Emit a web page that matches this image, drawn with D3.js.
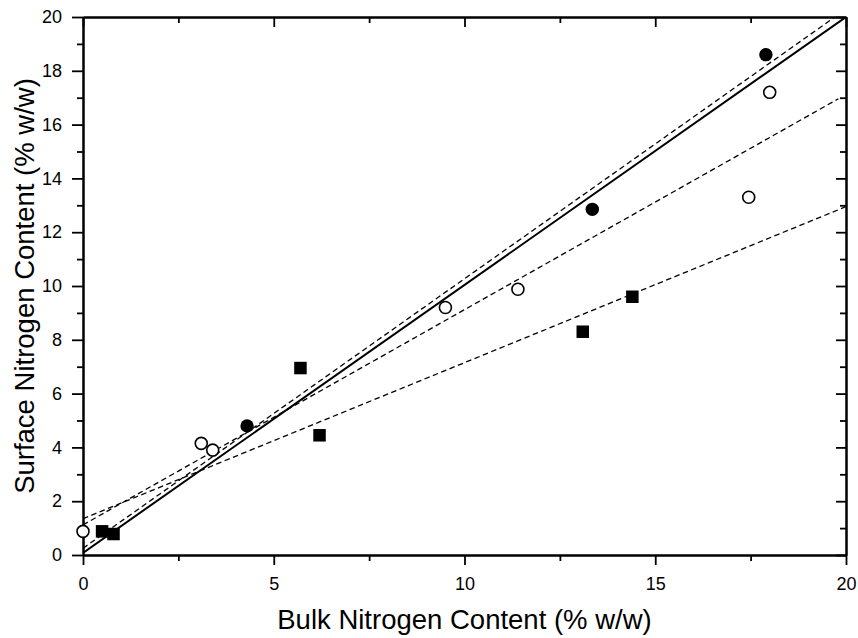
<!DOCTYPE html>
<html>
<head>
<meta charset="utf-8">
<script src="https://cdn.jsdelivr.net/npm/d3@7"></script>
<style>
  body { margin: 0; background: #fff; }
  svg { display: block; font-family: "Liberation Sans", Arial, sans-serif; }
</style>
</head>
<body>
<script>
// data
const filledCircleX = [4.3, 13.35, 17.9];
const filledCircleY = [4.8, 12.85, 18.6];
const openCircleX = [0, 3.1, 3.4, 9.5, 11.4, 17.45, 18.0];
const openCircleY = [0.88, 4.15, 3.9, 9.2, 9.88, 13.3, 17.2];
const squareX = [0.5, 0.8, 5.7, 6.2, 13.1, 14.4];
const squareY = [0.88, 0.78, 6.95, 4.45, 8.3, 9.6];

// fitted lines: intercept, slope, x range
const fitNames = ["solid", "dashA", "dashB", "dashC"];
const fitIntercepts = [0.08, 0.25, 1.12, 1.35];
const fitSlopes = [0.996, 1.002, 0.8, 0.58];
const fitXEnd = [20, 19.72, 19.8, 20];

const xMajor = [0, 5, 10, 15, 20];
const xMinor = [2.5, 7.5, 12.5, 17.5];
const yMajor = [0, 2, 4, 6, 8, 10, 12, 14, 16, 18, 20];
const yMinor = [1, 3, 5, 7, 9, 11, 13, 15, 17, 19];

const w = 858, h = 638;
const plotL = 83, plotR = 846, plotT = 17, plotB = 555;

const svg = d3.select("body").append("svg").attr("width", w).attr("height", h);

const x = d3.scaleLinear().domain([0, 20]).range([plotL, plotR]);
const y = d3.scaleLinear().domain([0, 20]).range([plotB, plotT]);

// axes: outward major+minor on bottom/left, inward on top/right
function axisGroup(axis, tx, ty) {
  const g = svg.append("g").attr("transform", "translate(" + tx + "," + ty + ")").call(axis);
  g.selectAll("line").attr("stroke", "#000").attr("stroke-width", 1.8);
  g.select(".domain").attr("stroke", "#000").attr("stroke-width", 2);
  g.selectAll("text").attr("font-size", 18).attr("fill", "#000")
    .attr("font-family", "Liberation Sans, Arial, sans-serif");
  return g;
}

axisGroup(d3.axisBottom(x).tickValues(xMajor).tickSize(10).tickSizeOuter(0).tickPadding(12).tickFormat(d3.format("d")), 0, plotB);
axisGroup(d3.axisBottom(x).tickValues(xMinor).tickSize(6).tickSizeOuter(0).tickFormat(""), 0, plotB);
axisGroup(d3.axisLeft(y).tickValues(yMajor).tickSize(11).tickSizeOuter(0).tickPadding(10).tickFormat(d3.format("d")), plotL, 0);
axisGroup(d3.axisLeft(y).tickValues(yMinor).tickSize(6).tickSizeOuter(0).tickFormat(""), plotL, 0);
axisGroup(d3.axisTop(x).tickValues(xMajor).tickSize(-10).tickSizeOuter(0).tickFormat(""), 0, plotT);
axisGroup(d3.axisTop(x).tickValues(xMinor).tickSize(-6).tickSizeOuter(0).tickFormat(""), 0, plotT);
axisGroup(d3.axisRight(y).tickValues(yMajor).tickSize(-10).tickSizeOuter(0).tickFormat(""), plotR, 0);
axisGroup(d3.axisRight(y).tickValues(yMinor).tickSize(-6).tickSizeOuter(0).tickFormat(""), plotR, 0);

// fit lines
svg.append("clipPath").attr("id", "plotclip").append("rect")
  .attr("x", plotL).attr("y", plotT).attr("width", plotR - plotL).attr("height", plotB - plotT);

const line = d3.line().x(d => x(d[0])).y(d => y(d[1]));
const fits = svg.append("g").attr("clip-path", "url(#plotclip)");
fitNames.forEach((name, i) => {
  const pts = [[0, fitIntercepts[i]], [fitXEnd[i], fitIntercepts[i] + fitSlopes[i] * fitXEnd[i]]];
  fits.append("path").attr("d", line(pts)).attr("fill", "none").attr("stroke", "#000")
    .attr("stroke-width", name == "solid" ? 2 : 1.3)
    .attr("stroke-dasharray", name == "solid" ? null : "5.5,3.5");
});

// markers
svg.selectAll(".open").data(openCircleX).enter().append("circle").attr("class", "open")
  .attr("cx", d => x(d)).attr("cy", (d, i) => y(openCircleY[i])).attr("r", 6)
  .attr("fill", "#fff").attr("stroke", "#000").attr("stroke-width", 1.6);

svg.selectAll(".filled").data(filledCircleX).enter().append("circle").attr("class", "filled")
  .attr("cx", d => x(d)).attr("cy", (d, i) => y(filledCircleY[i])).attr("r", 6.7)
  .attr("fill", "#000");

const sq = 12.5;
svg.selectAll(".sq").data(squareX).enter().append("rect").attr("class", "sq")
  .attr("x", d => x(d) - sq / 2).attr("y", (d, i) => y(squareY[i]) - sq / 2)
  .attr("width", sq).attr("height", sq).attr("fill", "#000");

// axis titles
svg.append("text").attr("x", (plotL + plotR) / 2).attr("y", 629).attr("text-anchor", "middle")
  .attr("font-size", 27.5).text("Bulk Nitrogen Content (% w/w)");
svg.append("text").attr("transform", "translate(34," + ((plotT + plotB) / 2) + ") rotate(-90)")
  .attr("text-anchor", "middle").attr("font-size", 27.5).text("Surface Nitrogen Content (% w/w)");
</script>
</body>
</html>
